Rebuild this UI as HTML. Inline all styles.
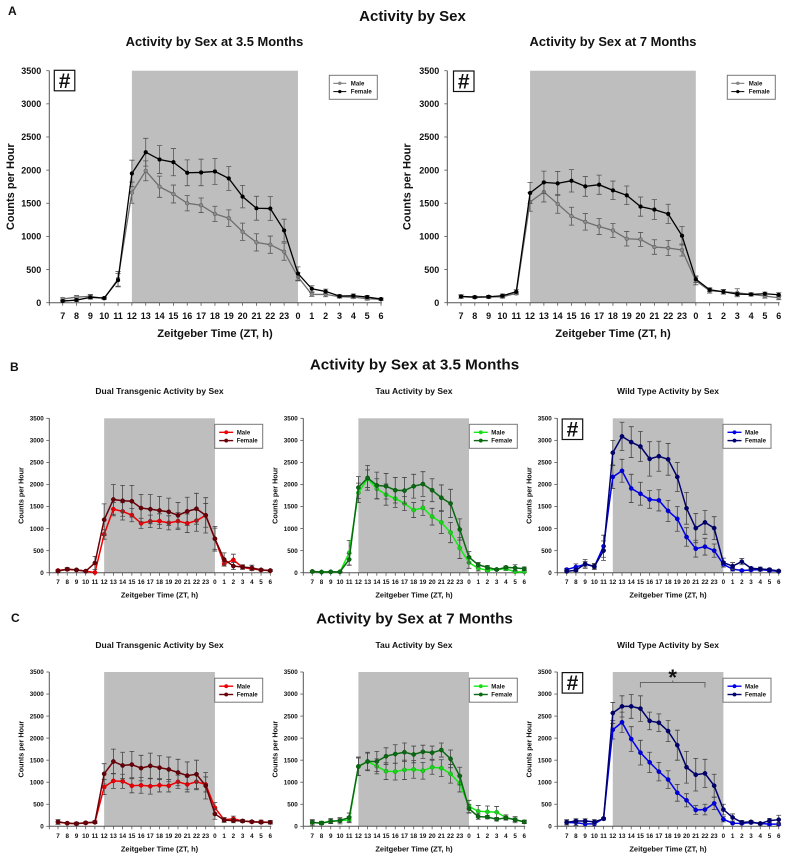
<!DOCTYPE html>
<html lang="en">
<head>
<meta charset="utf-8">
<title>Activity by Sex</title>
<style>
html,body{margin:0;padding:0;background:#fff;}
svg{display:block;font-family:"Liberation Sans",Arial,sans-serif;font-weight:bold;filter:blur(0.35px);}
text{fill:#111;}
</style>
</head>
<body>
<svg id="figure" xmlns="http://www.w3.org/2000/svg" width="788" height="859" viewBox="0 0 788 859">
  <rect width="788" height="859" fill="#fff"/>
  <text x="8" y="15" font-size="12">A</text>
  <text x="10" y="371" font-size="12">B</text>
  <text x="11" y="622" font-size="12">C</text>
  <text x="412.500" y="21" font-size="15" text-anchor="middle">Activity by Sex</text>
  <text x="414.500" y="369.300" font-size="15.2" text-anchor="middle">Activity by Sex at 3.5 Months</text>
  <text x="414.500" y="623.300" font-size="15.2" text-anchor="middle">Activity by Sex at 7 Months</text>
  <g id="charts"></g>
</svg>
<script>
var categories = [7,8,9,10,11,12,13,14,15,16,17,18,19,20,21,22,23,0,1,2,3,4,5,6];
var yTicks = [0,500,1000,1500,2000,2500,3000,3500];
var darkStart = 12;
var darkEnd = 0;

var a1MaleValues = [55,85,95,65,360,1660,1990,1750,1640,1500,1470,1340,1275,1070,910,875,770,390,125,125,90,85,60,50];
var a1MaleErrors = [20,25,30,15,110,160,150,160,135,115,110,115,125,130,130,130,130,60,30,35,20,20,20,15];
var a1FemaleValues = [25,40,80,70,340,1950,2270,2160,2120,1960,1965,1980,1875,1600,1425,1420,1090,440,210,170,100,105,85,55];
var a1FemaleErrors = [15,20,25,15,100,200,210,210,205,195,200,195,180,170,180,180,170,100,45,35,20,25,25,15];

var a2MaleValues = [90,80,85,90,140,1520,1670,1490,1305,1220,1150,1090,965,955,840,825,795,330,180,165,150,125,100,75];
var a2MaleErrors = [25,15,20,20,20,140,150,140,135,125,120,105,110,105,110,115,90,60,35,35,60,25,30,30];
var a2FemaleValues = [95,85,90,105,165,1655,1815,1800,1840,1755,1780,1695,1620,1450,1405,1340,1010,355,195,165,130,125,135,120];
var a2FemaleErrors = [25,15,20,25,30,160,170,180,170,150,145,140,140,145,150,145,140,50,30,30,25,20,25,30];

var b1MaleValues = [50,75,60,35,5,870,1440,1390,1305,1120,1165,1170,1130,1170,1120,1180,1300,770,200,290,120,85,60,45];
var b1MaleErrors = [20,25,20,15,5,110,150,195,150,115,140,165,160,190,210,240,270,280,50,130,40,30,20,20];
var b1FemaleValues = [35,80,65,35,220,1200,1660,1630,1620,1465,1440,1410,1380,1300,1390,1450,1300,770,300,150,130,110,65,50];
var b1FemaleErrors = [20,35,20,15,150,360,340,350,360,310,330,320,310,290,320,350,400,240,150,80,50,60,25,20];

var b2MaleValues = [25,15,20,20,450,1810,2130,1900,1770,1680,1570,1420,1470,1270,1140,910,560,230,100,55,75,90,20,20];
var b2MaleErrors = [15,10,10,10,280,220,200,230,240,200,160,170,170,190,250,230,240,130,60,30,20,40,40,30];
var b2FemaleValues = [30,15,20,20,300,1930,2150,1980,1960,1870,1860,1960,2010,1870,1700,1570,980,350,180,120,70,120,110,90];
var b2FemaleErrors = [15,10,10,10,130,250,280,300,290,290,300,270,280,260,290,320,240,130,50,40,20,30,70,40];

var b3MaleValues = [70,130,190,140,600,2170,2310,1910,1790,1660,1640,1400,1220,810,545,590,500,190,80,50,60,70,50,30];
var b3MaleErrors = [30,70,60,50,250,260,260,320,260,200,240,240,280,210,190,190,150,60,40,20,20,30,30,20];
var b3FemaleValues = [30,55,200,140,500,2720,3090,2960,2860,2580,2640,2570,2170,1460,1010,1140,1010,230,150,250,100,85,70,40];
var b3FemaleErrors = [20,30,100,70,220,280,320,350,340,390,340,360,330,360,330,270,260,100,80,70,30,40,30,20];

var c1MaleValues = [95,70,60,75,90,890,1030,1020,920,930,910,930,920,1010,950,1010,950,420,150,170,120,100,100,90];
var c1MaleErrors = [50,20,30,25,30,170,170,160,160,180,180,150,140,150,170,180,170,120,50,60,30,25,40,30];
var c1FemaleValues = [100,70,60,80,95,1190,1470,1380,1400,1320,1370,1330,1290,1220,1150,1180,920,280,140,130,120,105,90,90];
var c1FemaleErrors = [50,20,30,25,30,230,280,300,300,290,290,270,280,300,310,320,300,120,50,50,30,25,30,40];

var c2MaleValues = [85,75,120,125,150,1350,1470,1360,1250,1240,1280,1290,1260,1340,1320,1190,970,450,340,330,320,200,150,100];
var c2MaleErrors = [70,40,60,70,70,200,190,170,190,190,220,200,190,160,190,210,190,140,130,130,130,60,70,40];
var c2FemaleValues = [90,70,110,130,200,1360,1470,1470,1590,1640,1680,1630,1690,1670,1730,1530,1140,400,220,210,160,190,150,100];
var c2FemaleErrors = [40,30,40,40,100,210,210,230,190,210,210,190,150,150,160,200,200,100,60,40,40,40,40,30];

var c3MaleValues = [85,80,55,55,180,2190,2360,1980,1670,1450,1240,1060,760,590,370,380,520,160,70,65,85,65,50,50];
var c3MaleErrors = [50,60,50,50,20,210,230,280,280,230,210,200,190,150,100,120,140,60,20,20,30,20,30,30];
var c3FemaleValues = [90,120,120,100,170,2570,2720,2720,2670,2390,2350,2160,1840,1340,1170,1200,920,380,200,90,100,60,130,150];
var c3FemaleErrors = [60,50,50,50,30,240,240,270,290,200,200,240,340,360,370,320,260,120,80,40,30,30,50,100];

var sigStart = 15;
var sigEnd = 22;

var SVGNS = 'http://www.w3.org/2000/svg';
var host = document.getElementById('charts');

function make(tag, attrs, parent, content) {
  var el = document.createElementNS(SVGNS, tag);
  for (var k in attrs) { el.setAttribute(k, attrs[k]); }
  if (content !== undefined) { el.textContent = content; }
  parent.appendChild(el);
  return el;
}

function drawPanel(p) {
  var big = p.big;
  var g = make('g', {}, host);
  
  

  function xScale(i) { return p.x7 + (p.x6 - p.x7) * i / (categories.length - 1); }
  function yScale(v) { return p.y0 + (p.yTop - p.y0) * v / 3500; }

  var title = make('text', {x: p.titleX, y: p.titleY, 'font-size': big ? 12.9 : 8.5, 'text-anchor': 'middle'}, g, p.title);
  
  

  var x0 = xScale(categories.indexOf(darkStart));
  var x1 = xScale(categories.indexOf(darkEnd));
  var shade = make('rect', {x: x0, y: p.yTop, width: x1 - x0, height: p.y0 - p.yTop, fill: '#bebebe'}, g);
  
  

  var axisColor = '#555';
  var yAxis = make('line', {x1: p.axisX, x2: p.axisX, y1: p.yTop, y2: p.y0, stroke: axisColor, 'stroke-width': 1}, g);
  
  
  var xAxis = make('line', {x1: p.axisX, x2: p.x6 + 1, y1: p.y0, y2: p.y0, stroke: axisColor, 'stroke-width': 1}, g);
  
  

  yTicks.forEach(function (t) {
    var y = yScale(t);
    make('line', {x1: p.axisX - 3, x2: p.axisX, y1: y, y2: y, stroke: axisColor, 'stroke-width': 0.8}, g);
    var label = make('text', {x: p.axisX - (big ? 8 : 5.5), y: y + (big ? 3.2 : 2.2), 'font-size': big ? 9 : 6.3, 'text-anchor': 'end'}, g, String(t));
    
    
  });

  categories.forEach(function (c, i) {
    var x = xScale(i);
    make('line', {x1: x, x2: x, y1: p.y0, y2: p.y0 + 3, stroke: axisColor, 'stroke-width': 0.8}, g);
    var label = make('text', {x: x, y: p.y0 + (big ? 16.5 : 11.5), 'font-size': big ? 9 : 6.3, 'text-anchor': 'middle'}, g, String(c));
    
    
  });
  make('line', {x1: p.axisX, x2: p.axisX, y1: p.y0, y2: p.y0 + 3, stroke: axisColor, 'stroke-width': 0.8}, g);

  var xTitle = make('text', {x: p.xTitleX, y: p.y0 + (big ? 34.5 : 25), 'font-size': big ? 11.2 : 7.5, 'text-anchor': 'middle'}, g, 'Zeitgeber Time (ZT, h)');
  
  

  var ty = (p.y0 + p.yTop) / 2;
  var yTitle = make('text', {x: p.yTitleX, y: ty, 'font-size': big ? 11 : 7.2, 'text-anchor': 'middle', transform: 'rotate(-90 ' + p.yTitleX + ' ' + ty + ')'}, g, 'Counts per Hour');
  
  

  function drawSeries(name, values, errors, lineColor, markColor, markStroke) {
    var sg = make('g', {}, g);
    
    
    var cap = big ? 2.6 : 2.4;
    values.forEach(function (v, i) {
      var x = xScale(i);
      var hi = yScale(v + errors[i]);
      var lo = yScale(Math.max(0, v - errors[i]));
      var d = 'M' + x + ' ' + hi + 'V' + lo + 'M' + (x - cap) + ' ' + hi + 'H' + (x + cap) + 'M' + (x - cap) + ' ' + lo + 'H' + (x + cap);
      var bar = make('path', {d: d, stroke: p.errColor, 'stroke-width': 0.8, fill: 'none'}, sg);
      
      
    });
    var pts = values.map(function (v, i) { return xScale(i) + ',' + yScale(v); }).join(' ');
    var line = make('polyline', {points: pts, fill: 'none', stroke: lineColor, 'stroke-width': big ? 1.3 : 1.5}, sg);
    
    
    values.forEach(function (v, i) {
      var dot = make('circle', {cx: xScale(i), cy: yScale(v), r: big ? 1.9 : 2.1, fill: markColor, stroke: markStroke, 'stroke-width': 0.5}, sg);
      
      
    });
  }
  drawSeries('male', p.maleValues, p.maleErrors, p.maleLine, p.maleMark, p.maleStroke);
  drawSeries('female', p.femaleValues, p.femaleErrors, p.femaleLine, p.femaleMark, p.femaleStroke);

  var lg = make('g', {}, g);
  
  
  make('rect', {x: p.legX, y: p.legY, width: 48, height: 24, fill: '#fff', stroke: '#777', 'stroke-width': 1}, lg);
  var lx1 = p.legX + (big ? 4 : 4.5);
  var lx2 = p.legX + (big ? 17 : 18.5);
  var tx = p.legX + (big ? 21.5 : 22);
  [['Male', p.maleLine, p.maleMark, 8], ['Female', p.femaleLine, p.femaleMark, 16.3]].forEach(function (e) {
    var ly = p.legY + e[3];
    make('line', {x1: lx1, x2: lx2, y1: ly, y2: ly, stroke: e[1], 'stroke-width': big ? 1 : 1.4}, lg);
    make('circle', {cx: (lx1 + lx2) / 2, cy: ly, r: big ? 1.5 : 1.8, fill: e[2], stroke: e[1], 'stroke-width': 0.4}, lg);
    var t = make('text', {x: tx, y: ly + 2.1, 'font-size': 6.1}, lg, e[0]);
    
    
  });

  if (p.hash) {
    var hg = make('g', {}, g);
    
    
    make('rect', {x: p.hash[0], y: p.hash[1], width: 20.5, height: 20.5, fill: '#fff', stroke: '#111', 'stroke-width': 1.2}, hg);
    make('text', {x: p.hash[0] + 10.25, y: p.hash[1] + 17.5, 'font-size': 21, 'font-weight': 'bold', 'text-anchor': 'middle'}, hg, '#');
  }

  if (p.sig) {
    var sx0 = xScale(categories.indexOf(sigStart));
    var sx1 = xScale(categories.indexOf(sigEnd));
    var sy = p.yTop + 10.5;
    var br = make('path', {d: 'M' + sx0 + ' ' + (sy + 5) + 'V' + sy + 'H' + sx1 + 'V' + (sy + 5) + 'M' + ((sx0 + sx1) / 2) + ' ' + sy + 'V' + (sy - 2), fill: 'none', stroke: '#666', 'stroke-width': 1}, g);
    
    
    var star = make('text', {x: (sx0 + sx1) / 2, y: p.yTop + 13, 'font-size': 22, 'text-anchor': 'middle'}, g, '*');
    
    
  }
}

var grayStyle = {maleLine: '#6e6e6e', maleMark: '#8c8c8c', maleStroke: '#555', femaleLine: '#000', femaleMark: '#000', femaleStroke: '#000', errColor: '#555'};
var redStyle = {maleLine: '#f00000', maleMark: '#e8000a', maleStroke: '#b00000', femaleLine: '#6a0008', femaleMark: '#6a0008', femaleStroke: '#400005', errColor: '#444'};
var greenStyle = {maleLine: '#10ee10', maleMark: '#20d020', maleStroke: '#109a10', femaleLine: '#0a6a12', femaleMark: '#0a6a12', femaleStroke: '#064a0c', errColor: '#444'};
var blueStyle = {maleLine: '#0000f0', maleMark: '#0000e0', maleStroke: '#0000a0', femaleLine: '#00006e', femaleMark: '#00006e', femaleStroke: '#000050', errColor: '#444'};

function withStyle(style, cfg) {
  for (var k in style) { cfg[k] = style[k]; }
  return cfg;
}

var rowB = {y0: 572.7, yTop: 418.3, legY: 424.3, titleY: 394};
var rowC = {y0: 826.3, yTop: 672, legY: 678.2, titleY: 648};

drawPanel(withStyle(grayStyle, {id: 'a-3-5-months', big: true, title: 'Activity by Sex at 3.5 Months', titleX: 214.500, titleY: 46, axisX: 49.3, x7: 62.7, x6: 381, y0: 302.7, yTop: 70.7, xTitleX: 215, yTitleX: 14, legX: 329.3, legY: 75.3, hash: [54.3, 70.3], maleValues: a1MaleValues, maleErrors: a1MaleErrors, femaleValues: a1FemaleValues, femaleErrors: a1FemaleErrors}));
drawPanel(withStyle(grayStyle, {id: 'a-7-months', big: true, title: 'Activity by Sex at 7 Months', titleX: 613, titleY: 46, axisX: 447.3, x7: 461, x6: 778.7, y0: 302.7, yTop: 70.7, xTitleX: 613, yTitleX: 410.5, legX: 727.3, legY: 75.3, hash: [453.5, 71], maleValues: a2MaleValues, maleErrors: a2MaleErrors, femaleValues: a2FemaleValues, femaleErrors: a2FemaleErrors}));

drawPanel(withStyle(redStyle, {id: 'b-dual-transgenic', title: 'Dual Transgenic Activity by Sex', titleX: 159.500, titleY: rowB.titleY, axisX: 49.3, x7: 58, x6: 270.3, y0: rowB.y0, yTop: rowB.yTop, xTitleX: 159.500, yTitleX: 23.3, legX: 214.7, legY: rowB.legY, maleValues: b1MaleValues, maleErrors: b1MaleErrors, femaleValues: b1FemaleValues, femaleErrors: b1FemaleErrors}));
drawPanel(withStyle(greenStyle, {id: 'b-tau', title: 'Tau Activity by Sex', titleX: 414, titleY: rowB.titleY, axisX: 303.3, x7: 312.3, x6: 524.3, y0: rowB.y0, yTop: rowB.yTop, xTitleX: 414, yTitleX: 277.3, legX: 469.3, legY: rowB.legY, maleValues: b2MaleValues, maleErrors: b2MaleErrors, femaleValues: b2FemaleValues, femaleErrors: b2FemaleErrors}));
drawPanel(withStyle(blueStyle, {id: 'b-wild-type', title: 'Wild Type Activity by Sex', titleX: 668, titleY: rowB.titleY, axisX: 557.3, x7: 566.7, x6: 778.7, y0: rowB.y0, yTop: rowB.yTop, xTitleX: 668, yTitleX: 531.3, legX: 723, legY: rowB.legY, hash: [562.2, 419], maleValues: b3MaleValues, maleErrors: b3MaleErrors, femaleValues: b3FemaleValues, femaleErrors: b3FemaleErrors}));

drawPanel(withStyle(redStyle, {id: 'c-dual-transgenic', title: 'Dual Transgenic Activity by Sex', titleX: 159.500, titleY: rowC.titleY, axisX: 49.3, x7: 58, x6: 270.3, y0: rowC.y0, yTop: rowC.yTop, xTitleX: 159.500, yTitleX: 23.3, legX: 214.7, legY: rowC.legY, maleValues: c1MaleValues, maleErrors: c1MaleErrors, femaleValues: c1FemaleValues, femaleErrors: c1FemaleErrors}));
drawPanel(withStyle(greenStyle, {id: 'c-tau', title: 'Tau Activity by Sex', titleX: 414, titleY: rowC.titleY, axisX: 303.3, x7: 312.3, x6: 524.3, y0: rowC.y0, yTop: rowC.yTop, xTitleX: 414, yTitleX: 277.3, legX: 469.3, legY: rowC.legY, maleValues: c2MaleValues, maleErrors: c2MaleErrors, femaleValues: c2FemaleValues, femaleErrors: c2FemaleErrors}));
drawPanel(withStyle(blueStyle, {id: 'c-wild-type', title: 'Wild Type Activity by Sex', titleX: 668, titleY: rowC.titleY, axisX: 557.3, x7: 566.7, x6: 778.7, y0: rowC.y0, yTop: rowC.yTop, xTitleX: 668, yTitleX: 531.3, legX: 723, legY: rowC.legY, hash: [562.2, 672.6], sig: true, maleValues: c3MaleValues, maleErrors: c3MaleErrors, femaleValues: c3FemaleValues, femaleErrors: c3FemaleErrors}));
</script>
</body>
</html>
